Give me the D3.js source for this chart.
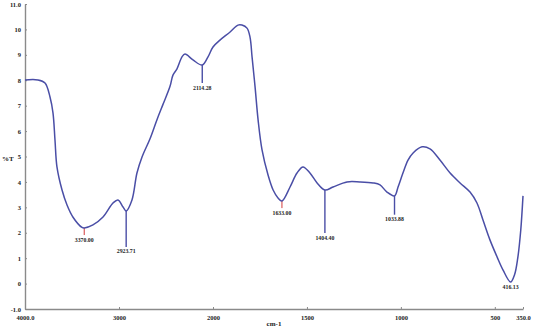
<!DOCTYPE html>
<html>
<head>
<meta charset="utf-8">
<script src="https://cdn.jsdelivr.net/npm/d3@7"></script>
<style>
  body { margin: 0; background: #fff; }
  text { font-family: "Liberation Serif", serif; fill: #222; }
</style>
</head>
<body>
<div id="chart"></div>
<script>
// spectrum trace (cm-1, %T)
const wavenumbers = [4000, 3862, 3787, 3734, 3702, 3681, 3660, 3606, 3553, 3489, 3394, 3370, 3277, 3170, 3064, 3011, 2957, 2923.71,
    2862, 2809, 2755, 2670, 2596, 2532, 2458, 2426, 2383, 2330, 2298, 2213, 2114.28, 2053, 2000, 1963, 1909, 1867, 1846, 1819,
    1803, 1792, 1776, 1760, 1739, 1707, 1680, 1654, 1633, 1590, 1553, 1521, 1484, 1446, 1404.4, 1361, 1287, 1218, 1148, 1111,
    1074, 1033.88, 1015, 989, 962, 935, 887, 845, 792, 738, 685, 632, 595, 563, 526, 488, 456, 416.13, 395, 378, 362, 350];
const transmittance = [8.01, 8.01, 7.89, 7.34, 6.71, 5.65, 4.59, 3.68, 3.09, 2.61, 2.21, 2.19, 2.31, 2.62, 3.17, 3.29, 3.01, 2.86,
    3.29, 4.35, 4.98, 5.7, 6.45, 7.05, 7.75, 8.2, 8.45, 8.92, 9.03, 8.8, 8.6, 8.92, 9.31, 9.58, 9.9, 10.17, 10.17, 10.05,
    9.7, 8.91, 7.73, 6.44, 5.26, 4.27, 3.68, 3.37, 3.25, 3.8, 4.35, 4.59, 4.35, 3.96, 3.68, 3.8, 4.0, 4.0, 3.96, 3.88,
    3.6, 3.45, 3.8, 4.35, 4.86, 5.14, 5.38, 5.3, 4.86, 4.35, 3.96, 3.6, 3.17, 2.5, 1.72, 1.05, 0.53, 0.06, 0.35, 1.0, 2.1, 3.45];

// peak picks: position, %T at the peak, where the marker line ends (%T)
const peakLabels = ["3370.00", "2923.71", "2114.28", "1633.00", "1404.40", "1033.88", "416.13"];
const peakWavenumbers = [3370, 2923.71, 2114.28, 1633, 1404.4, 1033.88, 416.13];
const peakValues = [2.19, 2.86, 8.6, 3.25, 3.68, 3.45, 0.06];
const peakMarkerEnds = [1.91, 1.44, 7.89, 2.97, 1.99, 2.71, 0.06];
const peakMarkerRed = [true, false, false, true, false, false, false];

const xTicks = [4000, 3000, 2000, 1500, 1000, 500, 350];
const xTickLabels = ["4000.0", "3000", "2000", "1500", "1000", "500", "350.0"];
const yTicks = [-1, 0, 1, 2, 3, 4, 5, 6, 7, 8, 9, 10, 11];
const yTickLabels = ["-1.0", "0", "1", "2", "3", "4", "5", "6", "7", "8", "9", "10", "11.0"];

const width = 533;
const height = 329;
const lineColor = "#4a4ea6";
const axisColor = "#8a8a8a";

const svg = (
    d3.select("#chart")
    .append("svg")
    .attr("width", width)
    .attr("height", height)
);

// the wavenumber axis changes scale at 2000 cm-1
const x = d3.scaleLinear().domain([4000, 2000, 350]).range([25, 213, 523]);
const y = d3.scaleLinear().domain([-1, 11]).range([309, 4]);

// axes
const xAxis = d3.axisBottom(x).tickValues(xTicks).tickSize(0).tickPadding(6)
    .tickFormat((d, i) => xTickLabels[i]);
const gx = svg.append("g").attr("transform", `translate(0, ${y(-1)})`).call(xAxis);
gx.select(".domain").attr("stroke", axisColor).attr("stroke-width", 1.4);
gx.selectAll("text").attr("font-size", 6.5).attr("font-weight", "bold").attr("fill", "#222");
gx.selectAll(".tick").append("line").attr("y1", 0).attr("y2", -2).attr("stroke", axisColor);

const yAxis = d3.axisLeft(y).tickValues(yTicks).tickSize(0).tickPadding(4)
    .tickFormat((d, i) => yTickLabels[i]);
const gy = svg.append("g").attr("transform", `translate(${x(4000)}, 0)`).call(yAxis);
gy.select(".domain").attr("stroke", axisColor).attr("stroke-width", 1.4);
gy.selectAll("text").attr("font-size", 6.5).attr("font-weight", "bold").attr("fill", "#222");
gy.selectAll(".tick").append("line").attr("x1", 0).attr("x2", 2).attr("stroke", axisColor);

svg.append("text")
    .attr("x", 2).attr("y", 161)
    .attr("font-size", 7).attr("font-weight", "bold")
    .text("%T");
svg.append("text")
    .attr("x", 274).attr("y", 326)
    .attr("text-anchor", "middle")
    .attr("font-size", 7).attr("font-weight", "bold")
    .text("cm-1");

// peak marker lines
for (let i = 0; i < peakLabels.length; ++i) {
    const px = x(peakWavenumbers[i]);
    if (peakMarkerEnds[i] !== peakValues[i]) {
        svg.append("line")
            .attr("x1", px).attr("x2", px)
            .attr("y1", y(peakValues[i])).attr("y2", y(peakMarkerEnds[i]))
            .attr("stroke", peakMarkerRed[i] ? "#d23a3a" : lineColor)
            .attr("stroke-width", peakMarkerRed[i] ? 1 : 1.4);
    }
    svg.append("text")
        .attr("x", px)
        .attr("y", y(peakMarkerEnds[i]) + 6.5)
        .attr("text-anchor", "middle")
        .attr("font-size", 5.8)
        .attr("font-weight", "bold")
        .text(peakLabels[i]);
}

// spectrum
const points = wavenumbers.map((w, i) => [w, transmittance[i]]);
const line = d3.line()
    .x((d) => x(d[0]))
    .y((d) => y(d[1]))
    .curve(d3.curveCatmullRom.alpha(0.5));
svg.append("path")
    .datum(points)
    .attr("d", line)
    .attr("fill", "none")
    .attr("stroke", lineColor)
    .attr("stroke-width", 1.5)
    .attr("stroke-linejoin", "round");
</script>
</body>
</html>
